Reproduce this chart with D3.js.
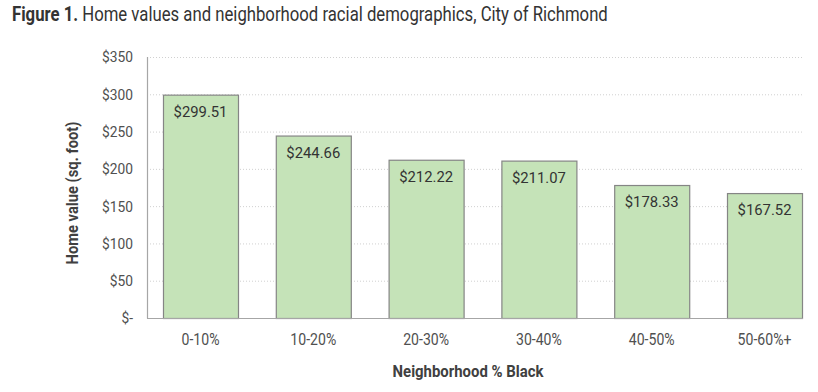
<!DOCTYPE html>
<html><head><meta charset="utf-8">
<script src="https://cdn.jsdelivr.net/npm/d3@7"></script>
<style>
body{margin:0;background:#fff;}
svg{display:block;}
text{font-family:Roboto,"Noto Sans",sans-serif;}
</style></head>
<body><svg id="c" width="818" height="392"></svg>
<script>
const categories = ["0-10%","10-20%","20-30%","30-40%","40-50%","50-60%+"];
const values = [299.51, 244.66, 212.22, 211.07, 178.33, 167.52];
const yTicks = [0,50,100,150,200,250,300,350];
const yTickLabels = ["$-","$50","$100","$150","$200","$250","$300","$350"];

const svg = d3.select("#c");
const plotL = 147, plotR = 803, plotT = 57, plotB = 318;
const y = d3.scaleLinear().domain([0,350]).range([plotB, plotT]);
const x = d3.scaleBand().domain(categories).range([125.2, 839.8]).padding(0.335);
const txt = "#505050";

// measure helper: returns horizontal squeeze so that sample string fits target width
function squeeze(sample, size, weight, target){
  const tmp = svg.append("text").attr("font-size",size).attr("font-weight",weight).text(sample);
  const w = tmp.node().getComputedTextLength(); tmp.remove();
  return target / w;
}

// title
const tg = svg.append("g");
const t = tg.append("text").attr("font-size",19.5).attr("fill","#333");
t.append("tspan").attr("font-weight","bold").text("Figure 1.");
t.append("tspan").text(" Home values and neighborhood racial demographics, City of Richmond");
const sT = 596 / t.node().getComputedTextLength();
tg.attr("transform",`translate(12,21) scale(${sT},1)`);

// gridlines
svg.append("g").selectAll("line").data(yTicks.filter(d=>d>0)).join("line")
  .attr("x1", plotL).attr("x2", plotR)
  .attr("y1", d=>y(d)+0.5).attr("y2", d=>y(d)+0.5)
  .attr("stroke","#d0d0d0").attr("stroke-width",1).attr("stroke-dasharray","1,2");

// bars
svg.append("g").selectAll("rect").data(values).join("rect")
  .attr("x",(d,i)=>x(categories[i])+0.5).attr("width",x.bandwidth())
  .attr("y",d=>y(d)+0.5).attr("height",d=>plotB-y(d))
  .attr("fill","#c5e3b8").attr("stroke","#858585").attr("stroke-width",1.2);

// value labels
const sV = squeeze("$299.51", 15.5, "normal", 54);
svg.append("g").selectAll("g").data(values).join("g")
  .attr("transform",(d,i)=>`translate(${x(categories[i])+x.bandwidth()/2},${y(d)+22}) scale(${sV},1)`)
  .append("text").attr("text-anchor","middle").attr("font-size",15.5).attr("fill","#333")
  .text(d=>"$"+d.toFixed(2));

// axes lines
svg.append("line").attr("x1",plotL+0.5).attr("x2",plotL+0.5).attr("y1",plotT).attr("y2",plotB+0.5)
  .attr("stroke","#a6a6a6").attr("stroke-width",1.2);
svg.append("line").attr("x1",plotL).attr("x2",plotR).attr("y1",plotB+0.5).attr("y2",plotB+0.5)
  .attr("stroke","#a6a6a6").attr("stroke-width",1.2);

// y axis tick labels
const sY = squeeze("$350", 15.5, "normal", 31);
const yAxis = d3.axisLeft(y).tickValues(yTicks).tickFormat((d,i)=>yTickLabels[i]).tickSize(0).tickPadding(0);
const gy = svg.append("g").attr("transform",`translate(${plotL-14},0)`).call(yAxis);
gy.select(".domain").remove();
gy.selectAll("text").attr("font-size",15.5).attr("fill",txt).attr("font-family",null)
  .attr("transform",`scale(${sY},1)`);

// x axis tick labels
const sX = squeeze("0-10%", 16, "normal", 38);
const xAxis = d3.axisBottom(x).tickSize(0).tickPadding(0);
const gx = svg.append("g").attr("transform",`translate(0,${plotB+16})`).call(xAxis);
gx.select(".domain").remove();
gx.selectAll("text").attr("font-size",16).attr("fill",txt).attr("font-family",null)
  .attr("transform",`scale(${sX},1)`);

// axis titles
const sXT = squeeze("Neighborhood % Black", 16.5, "bold", 151);
svg.append("g").attr("transform",`translate(468,377) scale(${sXT},1)`)
  .append("text").attr("text-anchor","middle")
  .attr("font-size",16.5).attr("font-weight","bold").attr("fill","#404040").text("Neighborhood % Black");
const sYT = squeeze("Home value (sq. foot)", 16.5, "bold", 143);
svg.append("g").attr("transform",`translate(78,193) rotate(-90) scale(${sYT},1)`)
  .append("text").attr("text-anchor","middle")
  .attr("font-size",16.5).attr("font-weight","bold").attr("fill","#404040").text("Home value (sq. foot)");
</script></body></html>
